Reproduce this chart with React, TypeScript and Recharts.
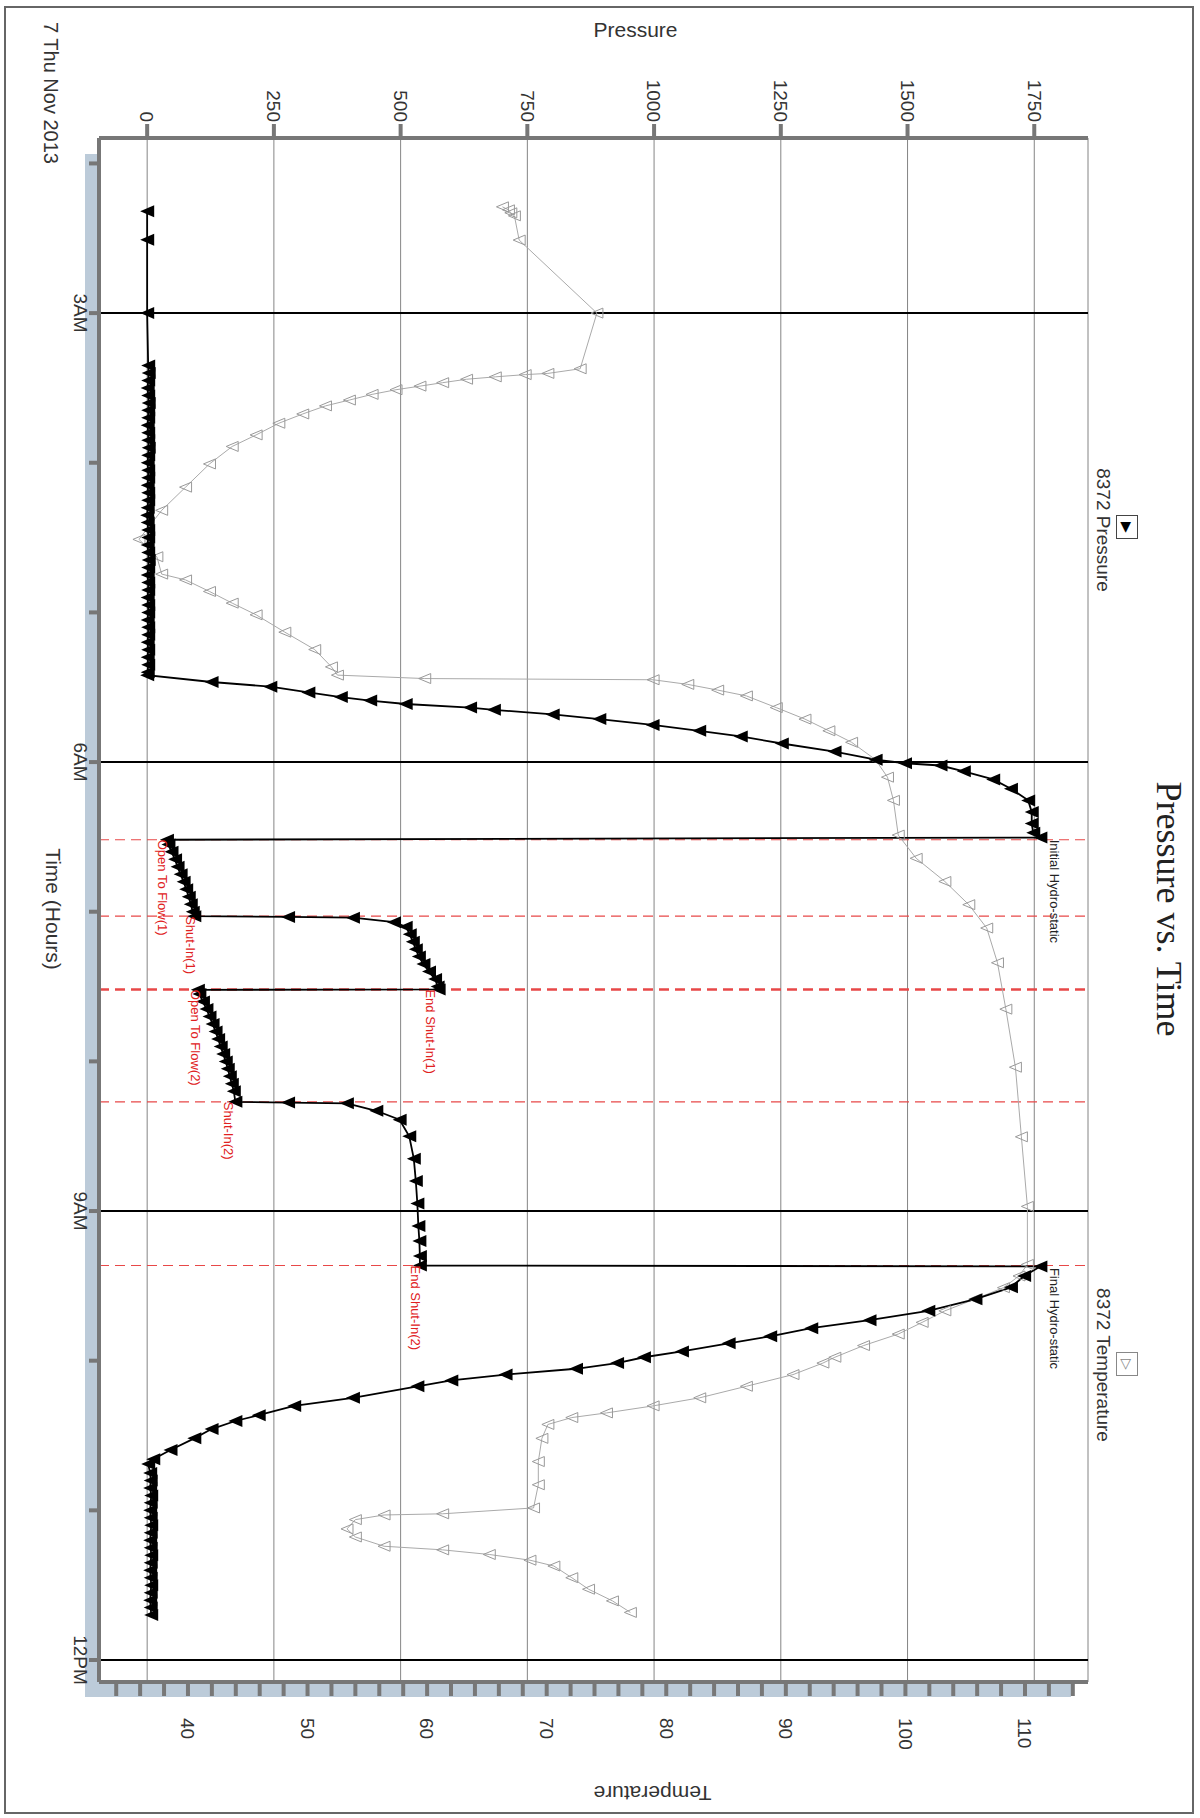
import { ComposedChart, Line, XAxis, YAxis, CartesianGrid, ReferenceLine, ReferenceDot } from "recharts";

// time (hours since midnight), pressure
const PRESSURE_T = [2.32, 2.51, 3.0, 3.35, 3.4, 3.45, 3.5, 3.55, 3.6, 3.65, 3.7, 3.75, 3.8, 3.85, 3.9, 3.95, 4.0, 4.05, 4.1, 4.15, 4.2, 4.25, 4.3, 4.35, 4.4, 4.45, 4.5, 4.55, 4.6, 4.65, 4.7, 4.75, 4.8, 4.85, 4.9, 4.95, 5.0, 5.05, 5.1, 5.15, 5.2, 5.25, 5.3, 5.35, 5.4, 5.42,
  5.465, 5.496, 5.535, 5.566, 5.589, 5.612, 5.636, 5.651, 5.682, 5.713, 5.752, 5.791, 5.829, 5.876, 5.93, 5.984, 6.008, 6.023, 6.062, 6.116, 6.178, 6.256, 6.333, 6.411, 6.473, 6.504,
  6.519, 6.55, 6.6, 6.65, 6.7, 6.75, 6.8, 6.85, 6.9, 6.95, 7.0, 7.03,
  7.035, 7.04, 7.07, 7.1, 7.15, 7.2, 7.25, 7.3, 7.35, 7.4, 7.45, 7.5, 7.519,
  7.522, 7.55, 7.6, 7.65, 7.7, 7.75, 7.8, 7.85, 7.9, 7.95, 8.0, 8.05, 8.1, 8.15, 8.2, 8.27,
  8.275, 8.28, 8.33, 8.39, 8.5, 8.65, 8.8, 8.95, 9.1, 9.2, 9.3, 9.364,
  9.37, 9.434, 9.51, 9.589, 9.667, 9.729, 9.783, 9.837, 9.884, 9.938, 9.977, 10.016, 10.054, 10.093, 10.132, 10.171, 10.248, 10.302, 10.364, 10.403, 10.457, 10.519, 10.597, 10.659, 10.69,
  10.75, 10.8, 10.85, 10.9, 10.95, 11.0, 11.05, 11.1, 11.15, 11.2, 11.25, 11.3, 11.35, 11.4, 11.45, 11.5, 11.55, 11.6, 11.65, 11.7];
const PRESSURE_V = [0, 0, 0, 2, 3, 2, 1, 2, 3, 2, 2, 1, 2, 2, 3, 2, 1, 2, 2, 1, 2, 2, 1, 0, 1, 2, 2, 1, 2, 3, 2, 1, 2, 2, 1, 2, 2, 1, 2, 2, 1, 2, 1, 2, 1, 0,
  127, 243, 318, 382, 440, 510, 637, 684, 800, 892, 997, 1089, 1171, 1252, 1356, 1437, 1495, 1565, 1611, 1669, 1704, 1738, 1745, 1745, 1748, 1762,
  39, 42, 48, 55, 60, 66, 72, 77, 82, 86, 90, 93,
  278, 406, 487, 510, 518, 524, 530, 536, 545, 556, 568, 573, 575,
  100, 103, 110, 117, 123, 129, 135, 140, 145, 150, 155, 159, 163, 167, 171, 174,
  278, 394, 452, 498, 517, 526, 530, 533, 535, 537, 538, 538,
  1762, 1730, 1704, 1634, 1541, 1425, 1310, 1229, 1147, 1055, 980, 927, 846, 707, 600, 533, 406, 290, 220, 174, 127, 93, 46, 12, 2,
  6, 7, 6, 8, 7, 6, 7, 8, 7, 6, 7, 8, 7, 6, 7, 8, 7, 6, 7, 8];

const TEMP_T = [2.29, 2.31, 2.33, 2.35, 2.512, 3.0, 3.372, 3.403, 3.411, 3.426, 3.442, 3.465, 3.488, 3.512, 3.543, 3.581, 3.62, 3.674, 3.736, 3.814, 3.891, 4.008, 4.163, 4.318, 4.512, 4.628, 4.744, 4.783, 4.86, 4.938, 5.016, 5.132, 5.248, 5.364, 5.419, 5.442, 5.45, 5.481, 5.519, 5.558, 5.636, 5.713, 5.791, 5.868, 5.984, 6.101, 6.256, 6.488, 6.643, 6.798, 6.953, 7.109, 7.341, 7.651, 8.039, 8.504, 8.969, 9.357, 9.434, 9.512, 9.589, 9.667, 9.744, 9.822, 9.899, 9.977, 10.016, 10.093, 10.171, 10.248, 10.302, 10.349, 10.38, 10.426, 10.519, 10.674, 10.829, 10.984, 11.023, 11.031, 11.062, 11.124, 11.178, 11.24, 11.264, 11.295, 11.333, 11.372, 11.45, 11.527, 11.605, 11.682];
const TEMP_V = [66.3, 66.8, 67.0, 67.3, 67.7, 74.2, 72.8, 70.1, 68.2, 65.7, 63.3, 61.3, 59.4, 57.4, 55.4, 53.5, 51.5, 49.6, 47.6, 45.7, 43.7, 41.8, 39.8, 37.8, 35.9, 37.4, 37.8, 39.8, 41.8, 43.7, 45.7, 48.1, 50.6, 52.0, 52.5, 59.8, 78.9, 81.8, 84.3, 86.7, 89.2, 91.6, 93.6, 95.5, 97.5, 98.5, 99.0, 99.4, 100.9, 103.3, 105.3, 106.8, 107.7, 108.4, 109.2, 109.7, 110.2, 110.2, 109.5, 108.2, 105.8, 103.3, 101.4, 99.4, 96.5, 94.1, 93.1, 90.6, 86.7, 82.8, 78.9, 75.0, 72.1, 70.1, 69.6, 69.3, 69.3, 68.9, 61.3, 56.4, 54.0, 53.3, 54.0, 56.4, 61.3, 65.2, 68.6, 70.6, 72.1, 73.5, 75.5, 77.0];

const EVENT_T = [6.519, 7.03, 7.519, 8.27, 9.364];
const EVENT_LABELS = [
  { t: 6.519, p: 30, text: "Open To Flow(1)", color: "#e02020" },
  { t: 7.03, p: 85, text: "Shut-In(1)", color: "#e02020" },
  { t: 7.519, p: 560, text: "End Shut-In(1)", color: "#e02020" },
  { t: 7.522, p: 95, text: "Open To Flow(2)", color: "#e02020" },
  { t: 8.27, p: 160, text: "Shut-In(2)", color: "#e02020" },
  { t: 9.364, p: 530, text: "End Shut-In(2)", color: "#e02020" },
  { t: 6.519, p: 1790, text: "Initial Hydro-static", color: "#222" },
  { t: 9.38, p: 1790, text: "Final Hydro-static", color: "#222" },
];
const TIME_TICKS = [2, 3, 4, 5, 6, 7, 8, 9, 10, 11, 12];
const TIME_MAJOR = [3, 6, 9, 12];
const P_TICKS = [0, 250, 500, 750, 1000, 1250, 1500, 1750];
const T_TICKS = [34, 36, 38, 40, 42, 44, 46, 48, 50, 52, 54, 56, 58, 60, 62, 64, 66, 68, 70, 72, 74, 76, 78, 80, 82, 84, 86, 88, 90, 92, 94, 96, 98, 100, 102, 104, 106, 108, 110, 112, 114];

const pData = PRESSURE_T.map((t, i) => ({ t, p: PRESSURE_V[i] }));
const tData = TEMP_T.map((t, i) => ({ t, temp: TEMP_V[i] }));

const timeLabel = (v: number) => (v === 3 ? "3AM" : v === 6 ? "6AM" : v === 9 ? "9AM" : v === 12 ? "12PM" : "");

const FilledTri = (props: any) => {
  const { cx, cy, index } = props;
  if (cx == null || cy == null) return null;
  return <path key={"p" + index} d={`M${cx - 6},${cy - 7} L${cx + 6},${cy - 7} L${cx},${cy + 7} Z`} fill="#000" />;
};
const OpenTri = (props: any) => {
  const { cx, cy, index } = props;
  if (cx == null || cy == null) return null;
  return <path key={"t" + index} d={`M${cx - 5},${cy - 6} L${cx + 5},${cy - 6} L${cx},${cy + 6} Z`} fill="none" stroke="#999" strokeWidth={1} />;
};

const txt: React.CSSProperties = { position: "absolute", fontFamily: "Liberation Sans, Arial, sans-serif", color: "#333", whiteSpace: "nowrap" };

export default function App() {
  return (
    <div style={{ position: "absolute", left: 0, top: 0, width: 1200, height: 1818, background: "#fff", overflow: "hidden" }}>
      <div style={{ position: "absolute", left: 0, top: 0, width: 1818, height: 1200, transformOrigin: "0 0", transform: "translate(1200px,0) rotate(90deg)" }}>
        <div style={{ position: "absolute", left: 6, top: 6, width: 1804, height: 1186, border: "2px solid #666" }} />
        {/* blue bands */}
        <div style={{ position: "absolute", left: 154, top: 1101, width: 1543, height: 14, background: "#bccbd9" }} />
        <div style={{ position: "absolute", left: 1682, top: 129, width: 15, height: 986, background: "#bccbd9" }} />
        <ComposedChart width={1818} height={1200} margin={{ top: 112, right: 10, bottom: 39, left: 10 }} style={{ position: "absolute", left: 0, top: 0 }}>
          <CartesianGrid vertical={false} stroke="#666" strokeWidth={0.8} yAxisId="p" />
          <XAxis dataKey="t" type="number" domain={[1.83, 12.147]} ticks={TIME_TICKS} tickFormatter={timeLabel} allowDataOverflow height={60}
            stroke="#777" strokeWidth={4} tickSize={10} tick={{ fontSize: 19, fill: "#333", fontFamily: "Liberation Sans, Arial" }} />
          <YAxis yAxisId="p" orientation="left" width={128} domain={[-95, 1856]} ticks={P_TICKS} allowDataOverflow
            stroke="#777" strokeWidth={4} tickSize={14} tick={{ fontSize: 19, fill: "#333", fontFamily: "Liberation Sans, Arial" }}
            label={{ value: "Pressure", angle: -90, position: "insideLeft", offset: 20, style: { fontSize: 21, fill: "#333", fontFamily: "Liberation Sans, Arial" } }} />
          <YAxis yAxisId="temp" orientation="right" width={126} domain={[32.56, 115.27]} ticks={T_TICKS} allowDataOverflow
            tickFormatter={(v: number) => (v % 10 === 0 ? String(v) : "")}
            stroke="#777" strokeWidth={4} tickSize={14} tick={{ fontSize: 19, fill: "#333", fontFamily: "Liberation Sans, Arial", dx: 20 }}
            label={{ value: "Temperature", angle: 90, position: "insideRight", offset: 15, style: { fontSize: 21, fill: "#333", fontFamily: "Liberation Sans, Arial" } }} />
          {TIME_MAJOR.map((t) => (
            <ReferenceLine key={"m" + t} x={t} yAxisId="p" stroke="#000" strokeWidth={2} />
          ))}
          {EVENT_T.map((t, i) => (
            <ReferenceLine key={"e" + t} x={t} yAxisId="p" stroke="#e84848" strokeWidth={i === 2 ? 2.5 : 1.2} strokeDasharray="10 6" />
          ))}
          <Line yAxisId="temp" data={tData} dataKey="temp" stroke="#aaa" strokeWidth={1} dot={OpenTri} isAnimationActive={false} />
          <Line yAxisId="p" data={pData} dataKey="p" stroke="#000" strokeWidth={1.8} dot={FilledTri} isAnimationActive={false} />
          {EVENT_LABELS.map((e) => (
            <ReferenceDot key={e.text} x={e.t} y={e.p} yAxisId="p" r={0} stroke="none"
              label={{ value: e.text, position: "right", offset: 0, style: { fontSize: 13, fill: e.color, fontFamily: "Liberation Sans, Arial" } }} />
          ))}
        </ComposedChart>
        <div style={{ ...txt, left: 0, width: 1818, top: 10, textAlign: "center", fontFamily: "Liberation Serif, Times New Roman, serif", fontSize: 36, color: "#222" }}>Pressure vs. Time</div>
        <div style={{ ...txt, left: 450, top: 86, fontSize: 19, width: 160, textAlign: "center" }}>8372 Pressure</div>
        <div style={{ ...txt, left: 515, top: 62, width: 22, height: 20, border: "1px solid #444", fontSize: 14, textAlign: "center", lineHeight: "20px", color: "#000" }}>▶</div>
        <div style={{ ...txt, left: 1265, top: 86, fontSize: 19, width: 200, textAlign: "center" }}>8372 Temperature</div>
        <div style={{ ...txt, left: 1352, top: 62, width: 22, height: 20, border: "1px solid #888", fontSize: 14, textAlign: "center", lineHeight: "20px", color: "#888" }}>▷</div>
        <div style={{ ...txt, left: 22, top: 1138, fontSize: 20 }}>7 Thu Nov 2013</div>
        <div style={{ ...txt, left: 0, width: 1818, top: 1135, textAlign: "center", fontSize: 21 }}>Time (Hours)</div>
      </div>
    </div>
  );
}
